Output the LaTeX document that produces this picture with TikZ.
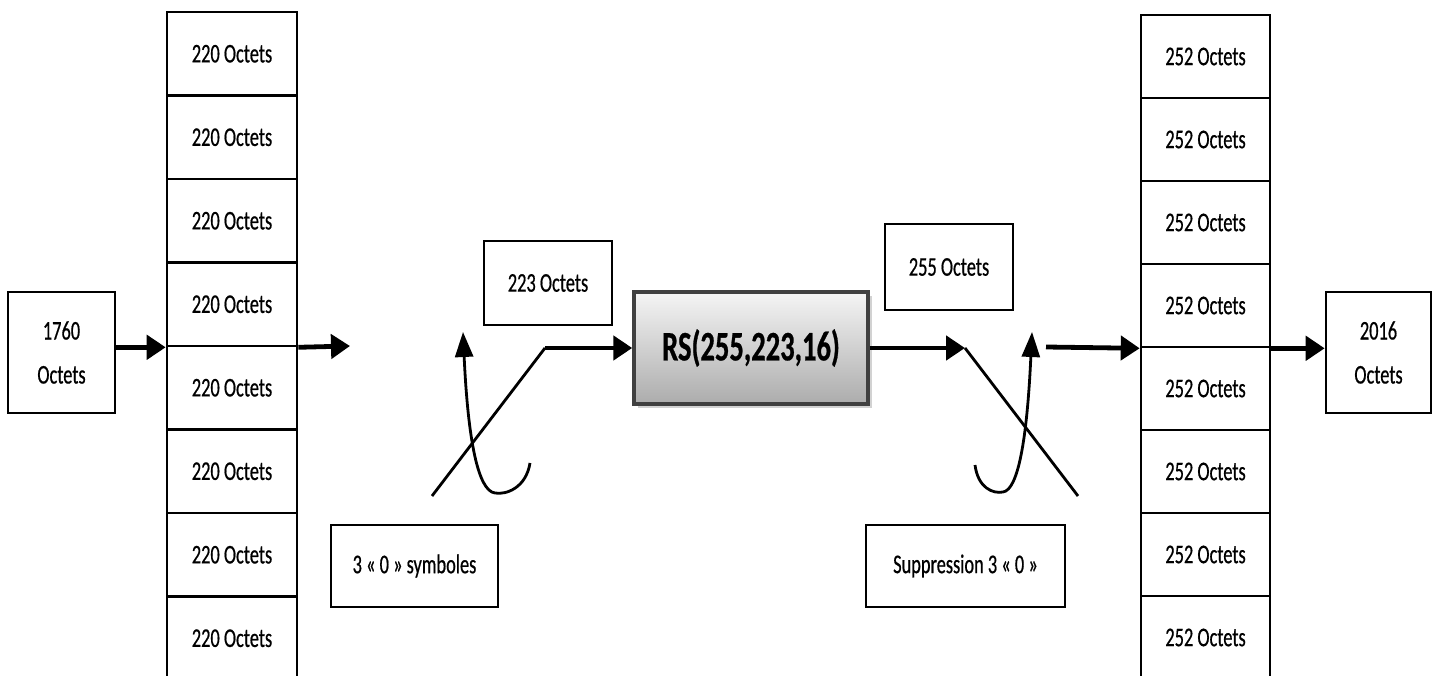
\documentclass[tikz,border=0pt]{standalone}
\usepackage{fontspec}
\setmainfont{Carlito}[FakeStretch=0.68,FakeBold=0.6]
\usetikzlibrary{arrows.meta,shadows}
\begin{document}
\begin{tikzpicture}[x=1pt,y=-1pt,
  cell/.style={draw=black,line width=2.6pt,inner sep=0pt,minimum width=130pt,minimum height=83.5pt,font=\fontsize{27}{32}\selectfont},
  rcell/.style={cell,minimum width=129pt,minimum height=83pt},
  lbl/.style={draw=black,line width=2.6pt,inner sep=0pt,font=\fontsize{27}{32}\selectfont,align=center},
  tall/.style={lbl,font=\fontsize{27}{44}\selectfont},
  thick arrow/.style={line width=4.8pt,-{Triangle[length=19pt,width=24pt]}},
  thin line/.style={line width=2.8pt},
  thin arrow/.style={line width=2.8pt,-{Triangle[length=25pt,width=18pt]}},
  rsbox/.style={draw=black!75,line width=3.5pt,inner sep=0pt,minimum width=234pt,minimum height=112pt,
    top color=gray!8,bottom color=gray!65,font=\fontsize{42}{48}\selectfont\bfseries,
    drop shadow={shadow xshift=4pt,shadow yshift=-4pt,fill=black!35}}
]
\useasboundingbox (0,0) rectangle (1438,676);
% left stack
\foreach \i in {1,...,8}{
  \node[cell] (l\i) at (232,{12+83.5*(\i-0.5)}) {220 Octets};
}
% right stack
\foreach \i in {1,...,8}{
  \node[rcell] (r\i) at (1205.5,{15+83*(\i-0.5)}) {252 Octets};
}
\node[tall,minimum width=107pt,minimum height=121pt] (in) at (61.5,352.5) {1760\\Octets};
\node[tall,minimum width=105pt,minimum height=121pt] (out) at (1378.5,352.5) {2016\\Octets};
\node[lbl,minimum width=128pt,minimum height=84pt] (a223) at (548,283) {223 Octets};
\node[lbl,minimum width=128pt,minimum height=86pt] (a255) at (949,267) {255 Octets};
\node[lbl,minimum width=167pt,minimum height=82pt] (z3) at (414.5,566) {3 « 0 » symboles};
\node[lbl,minimum width=199pt,minimum height=82pt] (sup) at (965.5,566) {Suppression 3 « 0 »};
\node[rsbox] (rs) at (751,348) {RS(255,223,16)};
% free ends
\coordinate (c1) at (350,346);
\coordinate (d1) at (432,496);
\coordinate (k1) at (545,348);
\coordinate (u1s) at (530,463);
\coordinate (u1b) at (495,493);
\coordinate (u1e) at (463,332);
\coordinate (c2) at (965,348);
\coordinate (d2) at (1078,496);
\coordinate (u2s) at (975,465);
\coordinate (u2b) at (1003,492);
\coordinate (u2e) at (1032,332);
\coordinate (c3) at (1046,347);
% connectors
\draw[thick arrow] (in.east |- l4.south west) -- (l4.south west);
\draw[thick arrow] (l4.south east) -- (c1);
\draw[thin line] (d1) -- (k1);
\draw[thick arrow] (k1) -- (rs.west);
\draw[thin arrow] (u1s) .. controls (526,488) and (506,495) .. (u1b) .. controls (478,491) and (468,440) .. (u1e);
\draw[thick arrow] (rs.east) -- (c2);
\draw[thin line] (c2) -- (d2);
\draw[thin arrow] (u2s) .. controls (978,488) and (993,494) .. (u2b) .. controls (1018,490) and (1027,440) .. (u2e);
\draw[thick arrow] (c3) -- (r4.south west);
\draw[thick arrow] (r4.south east) -- (out.west |- r4.south east);
\end{tikzpicture}
\end{document}
